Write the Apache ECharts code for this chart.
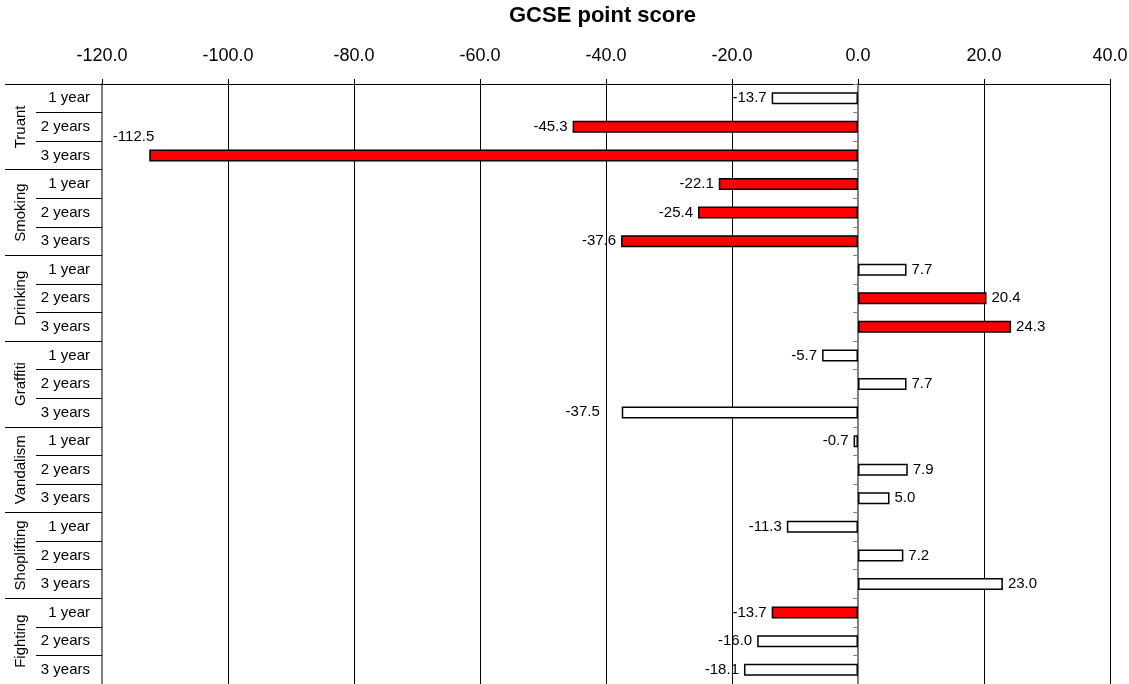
<!DOCTYPE html>
<html>
<head>
<meta charset="utf-8">
<script src="https://cdn.jsdelivr.net/npm/echarts@6/dist/echarts.min.js"></script>
<style>
html,body{margin:0;padding:0;background:#fff;}
#chart{width:1129px;height:684px;}
</style>
</head>
<body>
<div id="chart"></div>
<script>
// ---- data ----
const groups = ['Truant', 'Smoking', 'Drinking', 'Graffiti', 'Vandalism', 'Shoplifting', 'Fighting'];
const periods = ['1 year', '2 years', '3 years'];
const values = [
  -13.7, -45.3, -112.5,   // Truant
  -22.1, -25.4, -37.6,    // Smoking
  7.7, 20.4, 24.3,        // Drinking
  -5.7, 7.7, -37.5,       // Graffiti
  -0.7, 7.9, 5.0,         // Vandalism
  -11.3, 7.2, 23.0,       // Shoplifting
  -13.7, -16.0, -18.1     // Fighting
];
const significant = [
  0, 1, 1,
  1, 1, 1,
  0, 1, 1,
  0, 0, 0,
  0, 0, 0,
  0, 0, 0,
  1, 0, 0
];
const xTicks = { min: -120, max: 40, interval: 20 };

// ---- build ----
const FONT = 'Liberation Sans, Arial, sans-serif';
const categories = [];
groups.forEach(g => periods.forEach(p => categories.push(g + '|' + p)));

// label placement tweaks (style only)
const labelTweaks = { 2: { offset: [10, -19] }, 11: { offset: [-17, -1] } };

const seriesData = values.map((v, i) => {
  const t = labelTweaks[i] || {};
  return {
    value: v,
    itemStyle: { color: significant[i] ? '#FF0000' : '#FFFFFF' },
    label: {
      position: v < 0 ? 'left' : 'right',
      offset: t.offset || [0, 0]
    }
  };
});

const chart = echarts.init(document.getElementById('chart'), null, { renderer: 'canvas' });
chart.setOption({
  animation: false,
  backgroundColor: '#fff',
  textStyle: { fontFamily: FONT },
  title: {
    text: 'GCSE point score',
    left: 504,
    top: 0,
    textStyle: { fontFamily: FONT, fontWeight: 'bold', fontSize: 22, color: '#000' }
  },
  grid: { left: 102, right: 19, top: 84, bottom: 0, containLabel: false, outerBoundsMode: 'none' },
  xAxis: {
    type: 'value',
    position: 'top',
    min: xTicks.min,
    max: xTicks.max,
    interval: xTicks.interval,
    axisLine: { show: true, lineStyle: { color: '#000', width: 1 } },
    axisTick: { show: true, length: 5, lineStyle: { color: '#000' } },
    axisLabel: {
      fontFamily: FONT, fontSize: 18, color: '#000', margin: 19,
      formatter: v => v.toFixed(1)
    },
    splitLine: { show: true, lineStyle: { color: '#000', width: 1 } }
  },
  yAxis: [
    {
      type: 'category',
      inverse: true,
      position: 'left',
      data: categories,
      axisLine: { show: true, onZero: false, lineStyle: { color: '#808080', width: 2 } },
      axisTick: { show: true, length: 66, interval: 0, alignWithLabel: false, lineStyle: { color: '#000', width: 1 } },
      axisLabel: {
        fontFamily: FONT, fontSize: 15, color: '#000', margin: 12, interval: 0,
        formatter: v => v.split('|')[1]
      },
      splitLine: { show: false }
    },
    {
      type: 'category',
      inverse: true,
      position: 'left',
      data: categories,
      axisLine: { show: false, onZero: false },
      axisTick: { show: true, length: 97, interval: (i) => i % 3 === 0, alignWithLabel: false, lineStyle: { color: '#000', width: 1 } },
      axisLabel: {
        fontFamily: FONT, fontSize: 15, color: '#000', margin: 74, rotate: 90,
        interval: (i) => i % 3 === 1,
        formatter: v => v.split('|')[0]
      },
      splitLine: { show: false }
    },
    {
      type: 'category',
      inverse: true,
      position: 'left',
      data: categories,
      axisLine: { show: true, onZero: true, lineStyle: { color: '#808080', width: 2 } },
      axisTick: { show: true, length: 5, interval: 0, alignWithLabel: false, lineStyle: { color: '#808080', width: 1 } },
      axisLabel: { show: false },
      splitLine: { show: false }
    }
  ],
  series: [{
    type: 'bar',
    yAxisIndex: 0,
    barWidth: 12,
    data: seriesData,
    itemStyle: { borderColor: '#000', borderWidth: 1.5 },
    label: {
      show: true,
      distance: 5,
      fontFamily: FONT,
      fontSize: 15,
      color: '#000',
      formatter: p => p.value.toFixed(1)
    }
  }]
});
</script>
</body>
</html>
